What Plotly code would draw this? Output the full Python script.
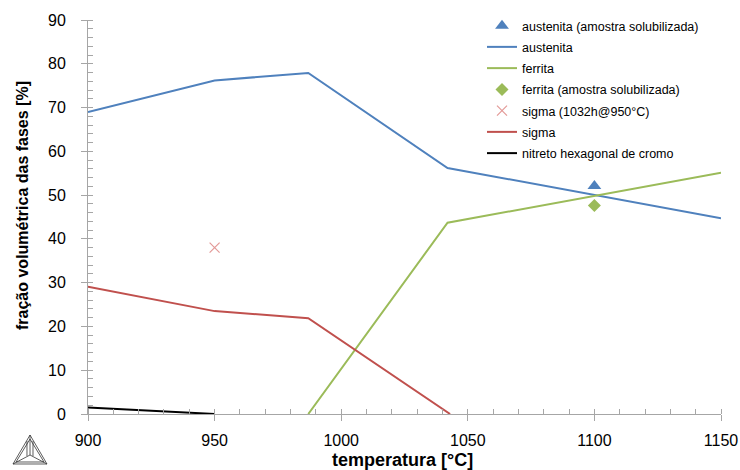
import plotly.graph_objects as go

# Calculated phase fractions vs temperature
temp_aus = [900, 950, 987, 1042, 1150]
aus_vals = [69.0, 76.2, 77.9, 56.2, 44.7]

temp_fer = [987, 1042, 1150]
fer_vals = [0.0, 43.7, 55.1]

temp_sig = [900, 950, 987, 1043]
sig_vals = [29.1, 23.5, 21.9, 0.0]

temp_nit = [900, 950]
nit_vals = [1.5, 0.0]

# Measured points
aus_meas_t = [1100]
aus_meas = [52.1]
fer_meas_t = [1100]
fer_meas = [47.6]
sig_meas_t = [950]
sig_meas = [38.0]

BLUE = "#4F81BD"
GREEN = "#9BBB59"
RED = "#C0504D"
AXIS = "#A6A6A6"

fig = go.Figure()
fig.add_trace(go.Scatter(x=aus_meas_t, y=aus_meas, mode="markers", name="austenita (amostra solubilizada)",
                         legendgroup="g1",
                         marker=dict(symbol="triangle-up", size=12, color=BLUE)))
fig.add_trace(go.Scatter(x=temp_aus, y=aus_vals, mode="lines", name="austenita", legendgroup="g2",
                         line=dict(color=BLUE, width=2)))
fig.add_trace(go.Scatter(x=temp_fer, y=fer_vals, mode="lines", name="ferrita", legendgroup="g3",
                         line=dict(color=GREEN, width=2)))
fig.add_trace(go.Scatter(x=fer_meas_t, y=fer_meas, mode="markers", name="ferrita (amostra solubilizada)",
                         legendgroup="g4",
                         marker=dict(symbol="diamond", size=10, color=GREEN)))
fig.add_trace(go.Scatter(x=sig_meas_t, y=sig_meas, mode="markers", name="sigma (1032h@950°C)",
                         legendgroup="g5",
                         marker=dict(symbol="x-thin", size=10, color="rgba(0,0,0,0)",
                                     line=dict(color="#E39A98", width=1.2))))
fig.add_trace(go.Scatter(x=temp_sig, y=sig_vals, mode="lines", name="sigma", legendgroup="g6",
                         line=dict(color=RED, width=2)))
fig.add_trace(go.Scatter(x=temp_nit, y=nit_vals, mode="lines", name="nitreto hexagonal de cromo",
                         legendgroup="g7",
                         line=dict(color="black", width=2)))

# Plot area edges in pixels
L, R, T, B = 88, 721, 20, 414
def px(x):
    return (x - L) / (R - L)
def py(y):
    return (B - y) / (B - T)

# Thermo-Calc style logo (paper coordinates)
apex, bl, br, ctr = (30, 435), (13, 464), (47, 464), (30, 455)
def path(pts, close=False):
    s = "M " + " L ".join(f"{px(a):.4f},{py(b):.4f}" for a, b in pts)
    return s + (" Z" if close else "")

logo_shapes = [
    dict(type="path", path=path([apex, bl, br], True)),
    dict(type="path", path=path([(30, 439), (16, 462), (44, 462)], True)),
    dict(type="path", path=path([apex, ctr])),
    dict(type="path", path=path([bl, ctr])),
    dict(type="path", path=path([br, ctr])),
    dict(type="path", path=path([(27, 441), (27, 456)])),
    dict(type="path", path=path([(33, 441), (33, 456)])),
]
for s in logo_shapes:
    s.update(xref="paper", yref="paper", line=dict(color="#333333", width=0.8))

FAMILY = "Liberation Sans, Arial, sans-serif"
annotations = [
    dict(text="<b>temperatura [°C]</b>", xref="paper", yref="paper",
         x=px(402), y=py(460), xanchor="center", yanchor="middle", showarrow=False,
         font=dict(size=18, family=FAMILY, color="black")),
    dict(text="<b>fração volumétrica das fases [%]</b>", xref="paper", yref="paper",
         x=px(22), y=py(206), xanchor="center", yanchor="middle", textangle=-90,
         showarrow=False, font=dict(size=16, family=FAMILY, color="black")),
]

fig.update_layout(
    width=740, height=470, autosize=False,
    margin=dict(l=L, r=740 - R, t=T, b=470 - B, autoexpand=False),
    paper_bgcolor="white", plot_bgcolor="white",
    font=dict(family=FAMILY, color="black"),
    showlegend=True,
    legend=dict(x=px(482), y=py(11), xanchor="left", yanchor="top", bgcolor="rgba(0,0,0,0)",
                font=dict(size=12.5), itemwidth=30, tracegroupgap=2, traceorder="grouped"),
    shapes=logo_shapes,
    annotations=annotations,
    xaxis=dict(range=[900, 1150], dtick=50, tick0=900, showline=True, linecolor=AXIS,
               ticks="outside", ticklen=6, tickcolor=AXIS, showgrid=False, zeroline=False,
               automargin=False, tickfont=dict(size=16), ticklabelstandoff=6,
               minor=dict(dtick=10, ticks="inside", ticklen=5, tickcolor=AXIS)),
    yaxis=dict(range=[0, 90], dtick=10, showline=True, linecolor=AXIS,
               ticks="outside", ticklen=6, tickcolor=AXIS, showgrid=False, zeroline=False,
               automargin=False, tickfont=dict(size=16), ticklabelstandoff=12,
               minor=dict(dtick=2, ticks="inside", ticklen=5, tickcolor=AXIS)),
)

fig.write_html("out.html")
